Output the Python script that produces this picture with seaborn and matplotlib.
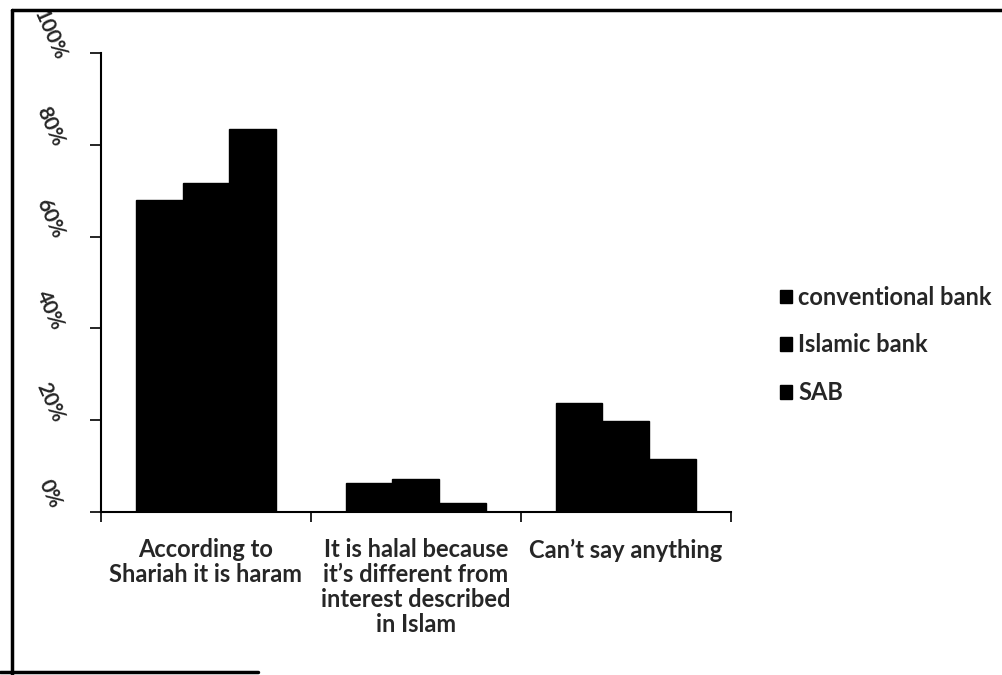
import matplotlib
matplotlib.use("Agg")
import matplotlib.pyplot as plt
import matplotlib.transforms as mtransforms
import seaborn as sns
import pandas as pd
from matplotlib.ticker import FixedLocator, PercentFormatter

categories = [
    "According to\nShariah it is haram",
    "It is halal because\nit\u2019s different from\ninterest described\nin Islam",
    "Can\u2019t say anything",
]
series = ["conventional bank", "Islamic bank", "SAB"]
conventional_bank = [0.68, 0.063, 0.237]
islamic_bank = [0.717, 0.072, 0.198]
sab = [0.835, 0.02, 0.115]

df = pd.DataFrame({
    "category": categories * 3,
    "bank": [s for s in series for _ in categories],
    "share": conventional_bank + islamic_bank + sab,
})

sns.set_style("white")
plt.rcParams["font.family"] = ["Lato", "DejaVu Sans"]

fig = plt.figure(figsize=(10.03, 6.75), dpi=100)
ax = fig.add_axes([0.1007, 0.2415, 0.628, 0.68])

sns.barplot(data=df, x="category", y="share", hue="bank", order=categories,
            hue_order=series, palette=["black"] * 3, width=0.67,
            saturation=1, edgecolor="black", ax=ax)

ax.set_ylim(0, 1.0)
ax.set_xlim(-0.5, 2.5)
ax.yaxis.set_major_locator(FixedLocator([0, 0.2, 0.4, 0.6, 0.8, 1.0]))
ax.yaxis.set_major_formatter(PercentFormatter(1.0, decimals=0))
ax.tick_params(axis="y", direction="out", length=8, width=1.2, color="black",
               labelsize=15, pad=29, left=True)

# category boundaries carry the ticks, category centres carry the labels
ax.set_xticks([-0.5, 0.5, 1.5, 2.5])
ax.set_xticklabels([])
ax.set_xticks([0, 1, 2], minor=True)
ax.set_xticklabels(categories, minor=True, fontsize=17, fontweight="bold",
                   linespacing=1.1)
ax.tick_params(axis="x", which="major", direction="out", length=7, width=1.2,
               color="black", bottom=True)
ax.tick_params(axis="x", which="minor", length=0, pad=19)

# slanted percentage labels, centred a little above their ticks
lift = mtransforms.ScaledTranslation(0, 18 / 100, fig.dpi_scale_trans)
for lab in ax.get_yticklabels():
    lab.set_rotation(-66)
    lab.set_fontweight("bold")
    lab.set_va("center")
    lab.set_ha("center")
    lab.set_transform(lab.get_transform() + lift)

ax.set_xlabel("")
ax.set_ylabel("")
for side in ("top", "right"):
    ax.spines[side].set_visible(False)
for side in ("left", "bottom"):
    ax.spines[side].set_color("black")
    ax.spines[side].set_linewidth(1.5)

leg = ax.legend(loc="center left", bbox_to_anchor=(1.045, 0.364), frameon=False,
                fontsize=17, handlelength=0.5, handleheight=0.5,
                handletextpad=0.25, labelspacing=1.05)
for t in leg.get_texts():
    t.set_fontweight("bold")

# outer frame drawn on the figure
frame_kw = dict(color="black", linewidth=2.5, transform=fig.transFigure)
fig.add_artist(plt.Line2D([12 / 1003, 12 / 1003], [0, 1 - 10 / 675], **frame_kw))
fig.add_artist(plt.Line2D([12 / 1003, 1], [1 - 10 / 675, 1 - 10 / 675], **frame_kw))
fig.add_artist(plt.Line2D([0, 258 / 1003], [3 / 675, 3 / 675], **frame_kw))

fig.savefig("out.png", dpi=100)
